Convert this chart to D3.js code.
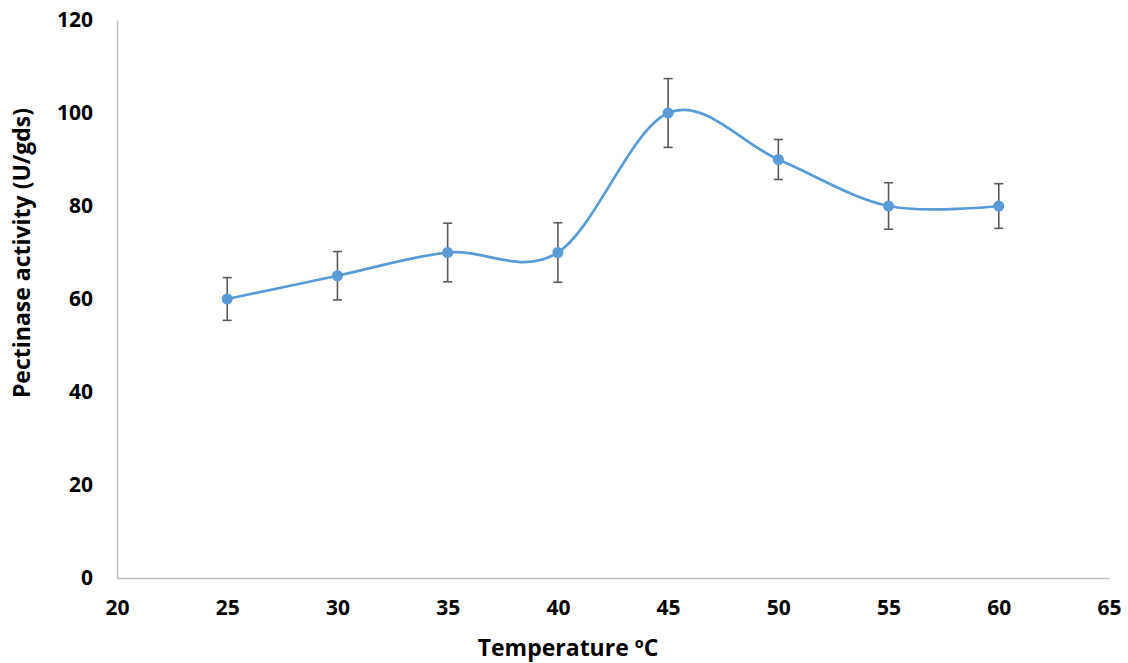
<!DOCTYPE html>
<html>
<head>
<meta charset="utf-8">
<script src="https://cdn.jsdelivr.net/npm/d3@7"></script>
<style>
  body { margin: 0; background: #fff; }
  text { font-family: "Open Sans", "Liberation Sans", sans-serif; font-weight: bold; }
</style>
</head>
<body>
<svg id="chart" width="1128" height="663"></svg>
<script>
// data
const temperature = [25, 30, 35, 40, 45, 50, 55, 60];
const activity = [60, 65, 70, 70, 100, 90, 80, 80];
const errors = [4.6, 5.2, 6.3, 6.4, 7.4, 4.3, 5.0, 4.8];
const xTicks = [20, 25, 30, 35, 40, 45, 50, 55, 60, 65];
const yTicks = [0, 20, 40, 60, 80, 100, 120];

const svg = d3.select("#chart");

// plot area
const plotLeft = 117, plotRight = 1109, plotTop = 20, plotBottom = 578;

const x = d3.scaleLinear().domain([20, 65]).range([plotLeft, plotRight]);
const y = d3.scaleLinear().domain([0, 120]).range([plotBottom, plotTop]);

const points = temperature.map((t, i) => ({ t: t, v: activity[i], e: errors[i] }));

// axes (no tick marks, grey lines)
const xAxis = svg.append("g")
    .attr("transform", `translate(0,${plotBottom})`)
    .call(d3.axisBottom(x).tickValues(xTicks).tickSize(0).tickPadding(22));
xAxis.select(".domain").attr("stroke", "#bfbfbf").attr("stroke-width", 1.5);
xAxis.selectAll("text").attr("font-size", "21px").attr("fill", "#000");

const yAxis = svg.append("g")
    .attr("transform", `translate(${plotLeft},0)`)
    .call(d3.axisLeft(y).tickValues(yTicks).tickSize(0).tickPadding(24));
yAxis.select(".domain").attr("stroke", "#bfbfbf").attr("stroke-width", 1.5);
yAxis.selectAll("text").attr("font-size", "21px").attr("fill", "#000");

// smoothed line
const line = d3.line()
    .x(d => x(d.t))
    .y(d => y(d.v))
    .curve(d3.curveCardinal.tension(0));

svg.append("path")
    .datum(points)
    .attr("d", line)
    .attr("fill", "none")
    .attr("stroke", "#5b9bd5")
    .attr("stroke-width", 2.75);

// error bars
const bars = svg.selectAll("g.err")
    .data(points)
    .enter()
    .append("g")
    .attr("class", "err")
    .attr("stroke", "#595959")
    .attr("stroke-width", 1.6);

bars.append("line")
    .attr("x1", d => x(d.t)).attr("x2", d => x(d.t))
    .attr("y1", d => y(d.v + d.e)).attr("y2", d => y(d.v - d.e));
bars.append("line")
    .attr("x1", d => x(d.t) - 4.5).attr("x2", d => x(d.t) + 4.5)
    .attr("y1", d => y(d.v + d.e)).attr("y2", d => y(d.v + d.e));
bars.append("line")
    .attr("x1", d => x(d.t) - 4.5).attr("x2", d => x(d.t) + 4.5)
    .attr("y1", d => y(d.v - d.e)).attr("y2", d => y(d.v - d.e));

// markers
svg.selectAll("circle.pt")
    .data(points)
    .enter()
    .append("circle")
    .attr("class", "pt")
    .attr("cx", d => x(d.t))
    .attr("cy", d => y(d.v))
    .attr("r", 5.5)
    .attr("fill", "#5b9bd5");

// axis titles
svg.append("text")
    .attr("x", 568)
    .attr("y", 656)
    .attr("text-anchor", "middle")
    .attr("font-size", "23px")
    .attr("fill", "#000")
    .text("Temperature ºC");

svg.append("text")
    .attr("transform", "translate(30,253) rotate(-90)")
    .attr("text-anchor", "middle")
    .attr("font-size", "23px")
    .attr("fill", "#000")
    .text("Pectinase activity (U/gds)");
</script>
</body>
</html>
